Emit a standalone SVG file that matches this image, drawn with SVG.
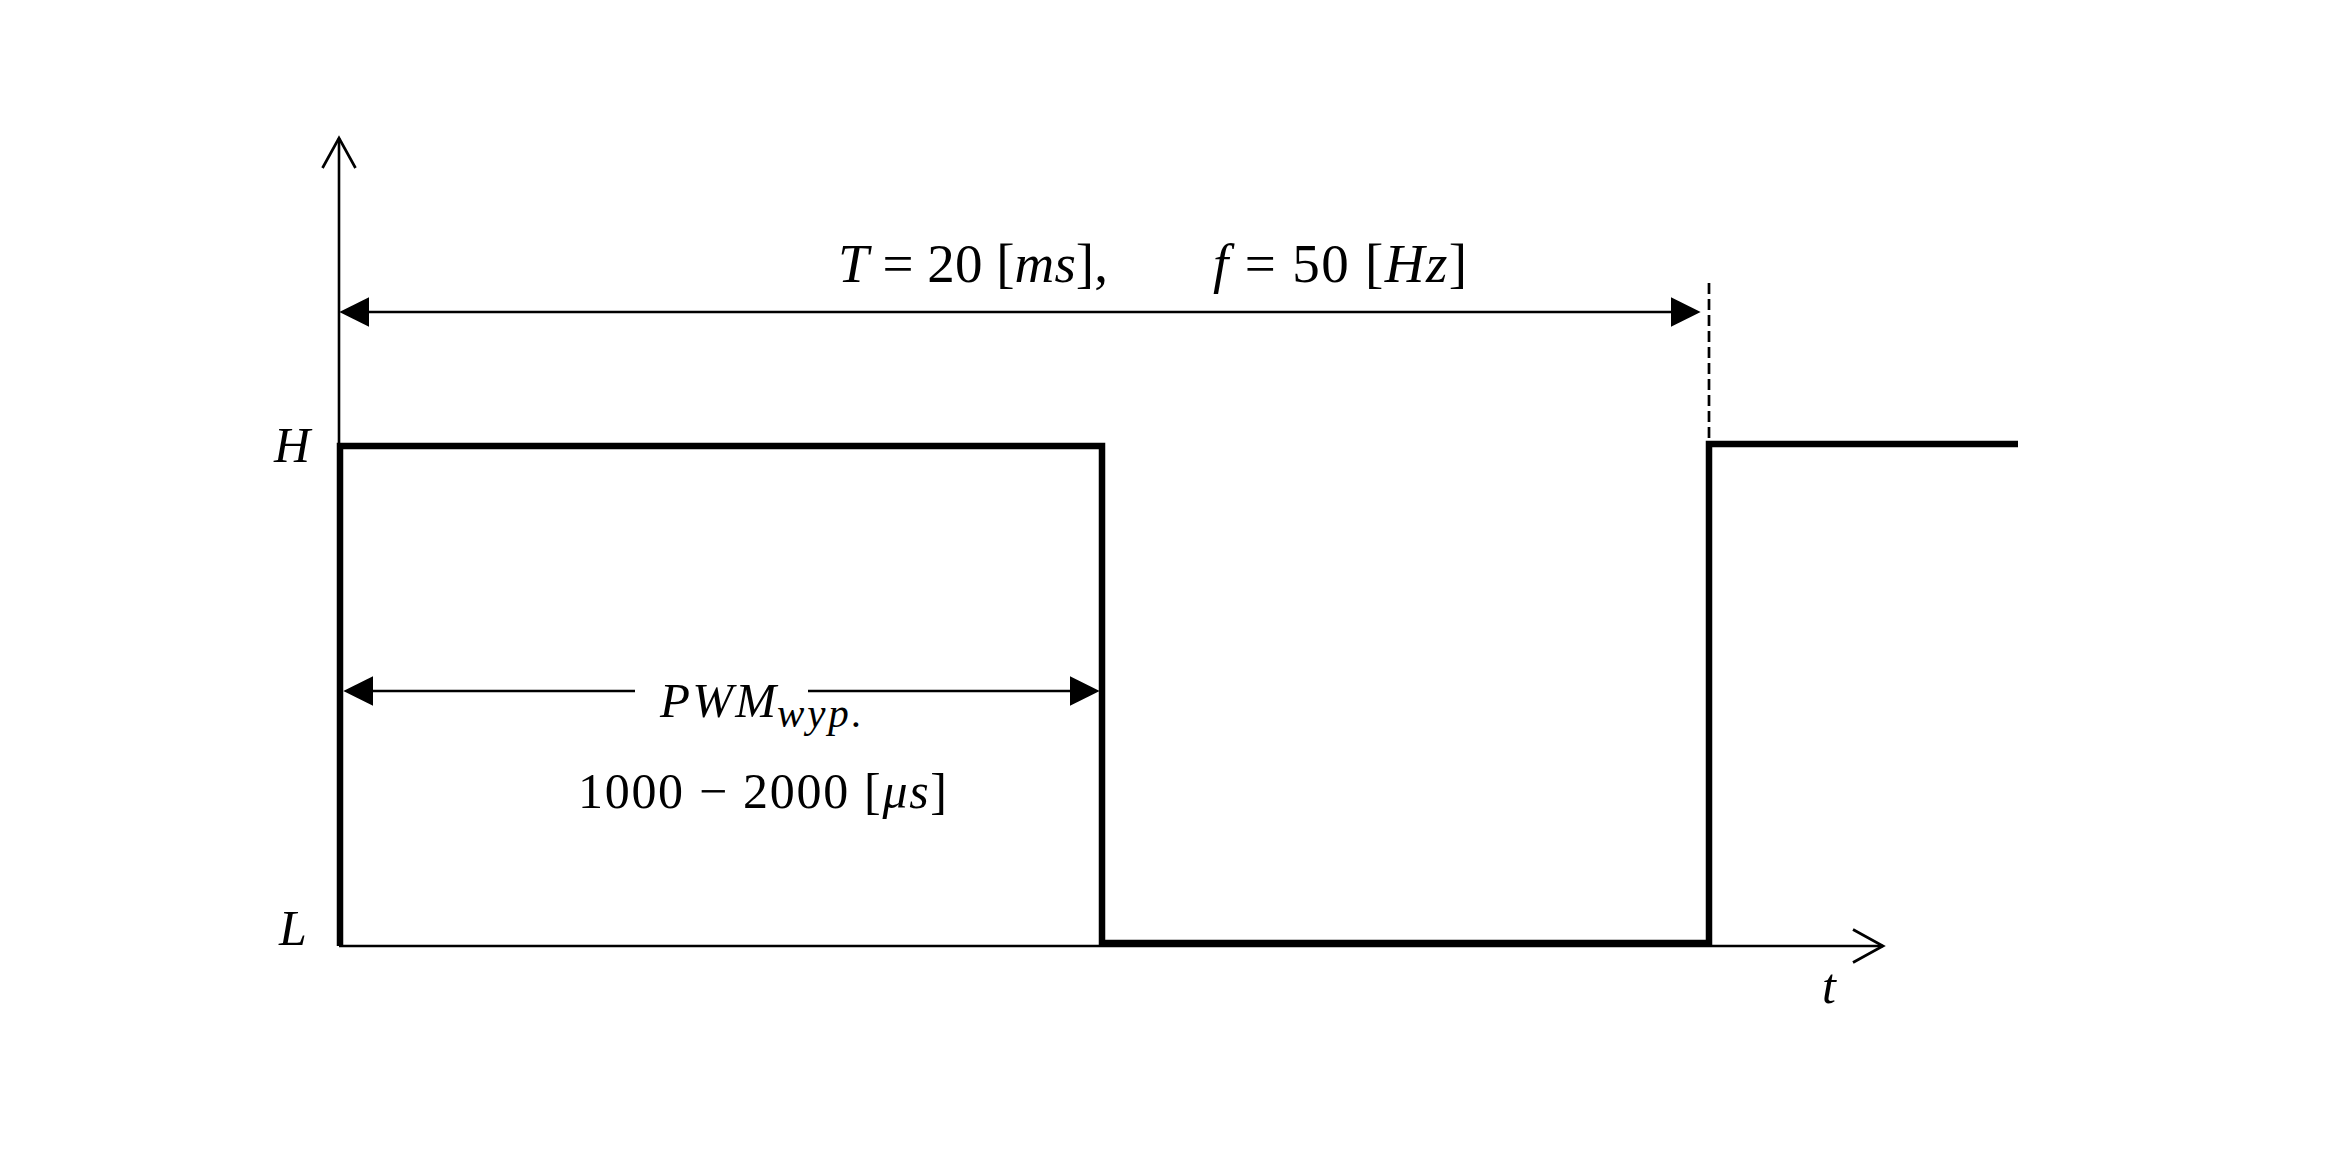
<svg xmlns="http://www.w3.org/2000/svg" width="2348" height="1155" viewBox="0 0 2348 1155">
  <style>
    .txt { font-family: "Liberation Serif", "DejaVu Serif", serif; fill: #000; }
    .it { font-style: italic; }
    .axis { stroke: #000; stroke-width: 2.6; fill: none; }
    .dim { stroke: #000; stroke-width: 2.5; fill: none; }
    .sig { stroke: #000; stroke-width: 6.5; fill: none; stroke-linejoin: miter; }
    .dash { stroke: #000; stroke-width: 2.7; stroke-dasharray: 11 5; fill: none; }
  </style>
  <defs>
    <marker id="open" markerUnits="userSpaceOnUse" markerWidth="40" markerHeight="40" viewBox="-3 -3 38 40" refX="30" refY="16.5" orient="auto">
      <path d="M0,0 L30,16.5 L0,33" fill="none" stroke="#000" stroke-width="2.7"/>
    </marker>
    <marker id="fill" markerUnits="userSpaceOnUse" markerWidth="30" markerHeight="30" viewBox="0 0 27 27" refX="21" refY="13.5" orient="auto-start-reverse">
      <path d="M0,0 L27,13.5 L0,27 z" fill="#000"/>
    </marker>
  </defs>
  <rect width="2348" height="1155" fill="#fff"/>

  <g id="axes">
    <line class="axis" x1="339" y1="946" x2="339" y2="138" marker-end="url(#open)"/>
    <line class="axis" x1="339" y1="946" x2="1883" y2="946" marker-end="url(#open)"/>
  </g>

  <g id="signal">
    <path class="sig" d="M340,946 V446 H1102 V943 H1709 V444 H2018"/>
  </g>

  <g id="connectors">
    <line class="dash" x1="1709" y1="283" x2="1709" y2="441"/>
    <line class="dim" x1="346" y1="312" x2="1694" y2="312" marker-start="url(#fill)" marker-end="url(#fill)"/>
    <line class="dim" x1="350" y1="691" x2="635" y2="691" marker-start="url(#fill)"/>
    <line class="dim" x1="808" y1="691" x2="1093" y2="691" marker-end="url(#fill)"/>
  </g>

  <g id="labels">
    <text class="txt" x="838" y="282" font-size="55" textLength="270" lengthAdjust="spacing"><tspan class="it">T</tspan> = 20 [<tspan class="it">ms</tspan>],</text>
    <text class="txt" x="1213" y="282" font-size="55" textLength="254" lengthAdjust="spacing"><tspan class="it">f</tspan> = 50 [<tspan class="it">Hz</tspan>]</text>
    <text class="txt it" x="660" y="717" font-size="49" textLength="116" lengthAdjust="spacing">PWM</text>
    <text class="txt it" x="777" y="727" font-size="41" textLength="85" lengthAdjust="spacing">wyp.</text>
    <text class="txt" x="578" y="808" font-size="50" textLength="369" lengthAdjust="spacing">1000 − 2000 [<tspan class="it">μs</tspan>]</text>
    <text class="txt it" x="274" y="462" font-size="50">H</text>
    <text class="txt it" x="279" y="945" font-size="50">L</text>
    <text class="txt it" x="1822" y="1003" font-size="50">t</text>
  </g>
</svg>
